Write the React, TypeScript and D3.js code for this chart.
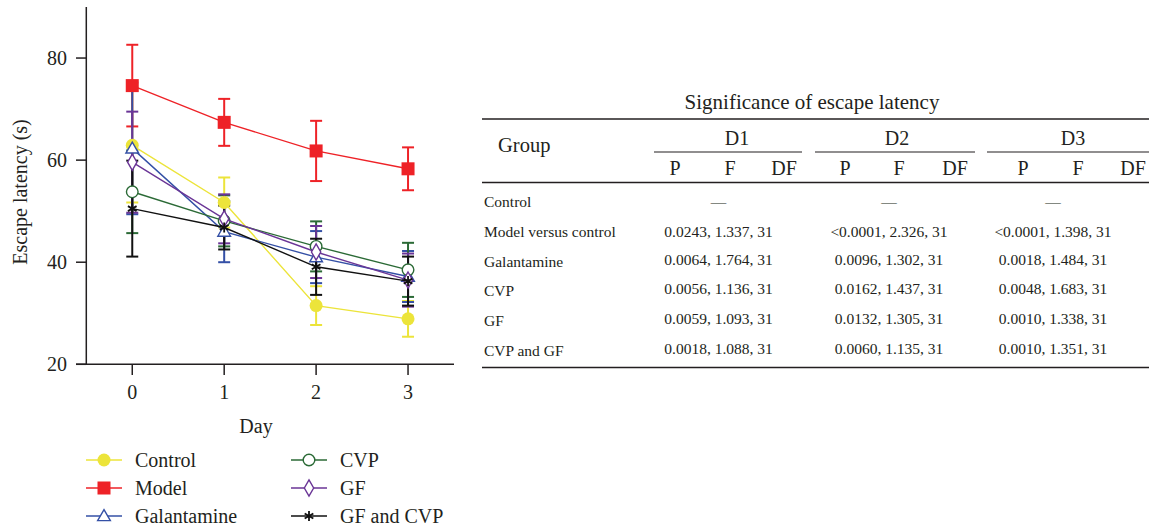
import React from "react";
import * as d3 from "d3";

const days = [0, 1, 2, 3];
const yTicks = [20, 40, 60, 80];

const seriesNames = ["Control", "Model", "Galantamine", "CVP", "GF", "GF and CVP"];
const seriesColors = ["#ece43a", "#ee2227", "#3450a6", "#2b6a36", "#6a3596", "#111111"];
const seriesSymbols = ["circleFill", "squareFill", "triangle", "circle", "diamond", "asterisk"];

const controlMean = [62.9, 51.7, 31.5, 28.9];
const controlErr = [11.2, 4.9, 3.8, 3.5];
const modelMean = [74.6, 67.4, 61.8, 58.3];
const modelErr = [8.0, 4.6, 5.9, 4.2];
const galantamineMean = [62.3, 46.0, 41.0, 37.2];
const galantamineErr = [12.9, 6.0, 5.1, 5.0];
const cvpMean = [53.8, 48.1, 43.1, 38.5];
const cvpErr = [8.1, 5.0, 4.9, 5.3];
const gfMean = [59.6, 48.5, 42.0, 36.5];
const gfErr = [9.9, 4.8, 5.1, 5.2];
const gfCvpMean = [50.5, 46.8, 39.1, 36.3];
const gfCvpErr = [9.4, 4.3, 5.5, 4.8];

const allMeans = [controlMean, modelMean, galantamineMean, cvpMean, gfMean, gfCvpMean];
const allErrs = [controlErr, modelErr, galantamineErr, cvpErr, gfErr, gfCvpErr];

const tableTitle = "Significance of escape latency";
const dayHeaders = ["D1", "D2", "D3"];
const subHeaders = ["P", "F", "DF"];
const groupRows = ["Control", "Model versus control", "Galantamine", "CVP", "GF", "CVP and GF"];
const d1Values = ["—", "0.0243, 1.337, 31", "0.0064, 1.764, 31", "0.0056, 1.136, 31", "0.0059, 1.093, 31", "0.0018, 1.088, 31"];
const d2Values = ["—", "<0.0001, 2.326, 31", "0.0096, 1.302, 31", "0.0162, 1.437, 31", "0.0132, 1.305, 31", "0.0060, 1.135, 31"];
const d3Values = ["—", "<0.0001, 1.398, 31", "0.0018, 1.484, 31", "0.0048, 1.683, 31", "0.0010, 1.338, 31", "0.0010, 1.351, 31"];

const FONT = "Liberation Serif, Times New Roman, serif";

function Marker({ kind, x, y, color }: { kind: string; x: number; y: number; color: string }) {
  if (kind === "circleFill") return <circle cx={x} cy={y} r={6.5} fill={color} />;
  if (kind === "squareFill") return <rect x={x - 6.5} y={y - 6.5} width={13} height={13} fill={color} />;
  if (kind === "circle") return <circle cx={x} cy={y} r={5.8} fill="white" stroke={color} strokeWidth={1.4} />;
  if (kind === "triangle") {
    const p = d3.symbol(d3.symbolTriangle, 70)();
    return <path d={p || ""} transform={`translate(${x},${y + 1})`} fill="white" stroke={color} strokeWidth={1.4} />;
  }
  if (kind === "diamond") {
    const p = d3.symbol(d3.symbolDiamond, 75)();
    return <path d={p || ""} transform={`translate(${x},${y})`} fill="white" stroke={color} strokeWidth={1.4} />;
  }
  const p = d3.symbol(d3.symbolAsterisk, 70)();
  return <path d={p || ""} transform={`translate(${x},${y})`} fill="none" stroke={color} strokeWidth={1.8} />;
}

export default function App() {
  const x = d3.scaleLinear().domain([-0.5, 3.5]).range([86.3, 454]);
  const y = d3.scaleLinear().domain([20, 90]).range([364.3, 7]);
  const line = d3
    .line<number>()
    .x((_, i) => x(days[i]))
    .y((d) => y(d));

  // table geometry
  const tLeft = 482;
  const tRight = 1149;
  const headerCenters = [737, 897, 1073];
  const cellCenters = [718.5, 889, 1053];
  const underlineSpans = [
    [654, 802],
    [815, 975],
    [987, 1149],
  ];
  const subX = [
    [675, 730, 784],
    [845, 899, 955],
    [1023, 1078, 1133],
  ];
  const rowY = [201, 231, 261, 290, 320, 350];
  const cols = [d1Values, d2Values, d3Values];

  const T = ({ x: tx, y: ty, size, anchor, children }: any) => (
    <text
      x={tx}
      y={ty}
      fontSize={size}
      textAnchor={anchor || "start"}
      dominantBaseline="central"
      style={{ fontFamily: FONT }}
      fill="#231f20"
    >
      {children}
    </text>
  );

  return (
    <svg
      width={1149}
      height={529}
      style={{ position: "absolute", left: 0, top: 0, background: "white", fontFamily: FONT }}
    >
      {/* axes */}
      <line x1={86.3} x2={86.3} y1={7} y2={364.3} stroke="#231f20" strokeWidth={1.5} />
      <line x1={76} x2={454} y1={364.3} y2={364.3} stroke="#231f20" strokeWidth={1.5} />
      {yTicks.map((t) => (
        <g key={t}>
          <line x1={76} x2={86.3} y1={y(t)} y2={y(t)} stroke="#231f20" strokeWidth={1.5} />
          <T x={67} y={y(t)} size={20} anchor="end">
            {t}
          </T>
        </g>
      ))}
      {days.map((d) => (
        <g key={d}>
          <line x1={x(d)} x2={x(d)} y1={364.3} y2={375} stroke="#231f20" strokeWidth={1.5} />
          <T x={x(d)} y={392} size={20} anchor="middle">
            {d}
          </T>
        </g>
      ))}
      <T x={256} y={426} size={20} anchor="middle">
        Day
      </T>
      <text
        transform={`translate(20,192) rotate(-90)`}
        fontSize={20}
        textAnchor="middle"
        dominantBaseline="central"
        style={{ fontFamily: FONT }}
        fill="#231f20"
      >
        Escape latency (s)
      </text>

      {/* error bars */}
      {allMeans.map((m, si) => (
        <g key={"e" + si} stroke={seriesColors[si]} strokeWidth={2}>
          {m.map((v, i) => {
            const e = allErrs[si][i];
            const cx = x(days[i]);
            return (
              <g key={i}>
                <line x1={cx} x2={cx} y1={y(v - e)} y2={y(v + e)} />
                <line x1={cx - 6} x2={cx + 6} y1={y(v + e)} y2={y(v + e)} />
                <line x1={cx - 6} x2={cx + 6} y1={y(v - e)} y2={y(v - e)} />
              </g>
            );
          })}
        </g>
      ))}
      {/* lines and markers */}
      {allMeans.map((m, si) => (
        <g key={"l" + si}>
          <path d={line(m) || ""} fill="none" stroke={seriesColors[si]} strokeWidth={1.4} />
          {m.map((v, i) => (
            <Marker key={i} kind={seriesSymbols[si]} x={x(days[i])} y={y(v)} color={seriesColors[si]} />
          ))}
        </g>
      ))}

      {/* legend */}
      {seriesNames.map((n, i) => {
        const col = Math.floor(i / 3);
        const row = i % 3;
        const lx = col === 0 ? 86 : 291;
        const ly = 460 + row * 28;
        return (
          <g key={n}>
            <line x1={lx} x2={lx + 36} y1={ly} y2={ly} stroke={seriesColors[i]} strokeWidth={1.4} />
            <Marker kind={seriesSymbols[i]} x={lx + 18} y={ly} color={seriesColors[i]} />
            <T x={lx + 49} y={ly} size={20}>
              {n}
            </T>
          </g>
        );
      })}

      {/* table */}
      <T x={812} y={102} size={21} anchor="middle">
        {tableTitle}
      </T>
      <line x1={tLeft} x2={tRight} y1={119} y2={119} stroke="#231f20" strokeWidth={1.5} />
      <T x={498} y={145} size={20.5}>
        Group
      </T>
      {dayHeaders.map((h, i) => (
        <g key={h}>
          <T x={headerCenters[i]} y={138} size={20} anchor="middle">
            {h}
          </T>
          <line
            x1={underlineSpans[i][0]}
            x2={underlineSpans[i][1]}
            y1={152}
            y2={152}
            stroke="#231f20"
            strokeWidth={1.2}
          />
          {subHeaders.map((s, j) => (
            <T key={s} x={subX[i][j]} y={168} size={20} anchor="middle">
              {s}
            </T>
          ))}
        </g>
      ))}
      <line x1={tLeft} x2={tRight} y1={182.5} y2={182.5} stroke="#231f20" strokeWidth={1.5} />
      {groupRows.map((g, r) => (
        <g key={g}>
          <T x={484} y={rowY[r]} size={15.5}>
            {g}
          </T>
          {cols.map((c, ci) => (
            <T key={ci} x={cellCenters[ci]} y={rowY[r] - (r > 1 ? 1.5 : 0)} size={15.5} anchor="middle">
              {c[r]}
            </T>
          ))}
        </g>
      ))}
      <line x1={tLeft} x2={tRight} y1={367.5} y2={367.5} stroke="#231f20" strokeWidth={1.5} />
    </svg>
  );
}
